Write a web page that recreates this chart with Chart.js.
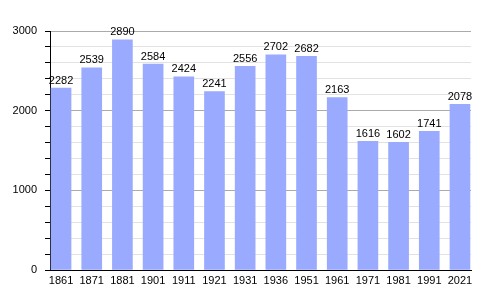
<!DOCTYPE html>
<html>
<head>
<meta charset="utf-8">
<style>
  html, body { margin: 0; padding: 0; background: #fff; }
  #wrap { width: 500px; height: 300px; }
</style>
</head>
<body>
<div id="wrap"><canvas id="popChart"></canvas></div>
<script src="https://cdn.jsdelivr.net/npm/chart.js"></script>
<script>
const years = ['1861', '1871', '1881', '1901', '1911', '1921', '1931', '1936', '1951', '1961', '1971', '1981', '1991', '2021'];
const population = [2282, 2539, 2890, 2584, 2424, 2241, 2556, 2702, 2682, 2163, 1616, 1602, 1741, 2078];
const yTicks = [0, 1000, 2000, 3000];

const FONT = '"Liberation Sans", Arial, sans-serif';

// value labels above each bar
const barLabels = {
  id: 'barLabels',
  afterDatasetsDraw(chart) {
    const ctx = chart.ctx;
    const meta = chart.getDatasetMeta(0);
    ctx.save();
    ctx.font = '11px ' + FONT;
    ctx.fillStyle = '#000';
    ctx.textAlign = 'center';
    ctx.textBaseline = 'bottom';
    meta.data.forEach((bar, i) => {
      ctx.fillText(String(population[i]), bar.x, bar.y - 2);
    });
    ctx.restore();
  }
};

const ctx = document.getElementById('popChart').getContext('2d');
new Chart(ctx, {
  type: 'bar',
  data: {
    datasets: [{
      data: population.map((v, i) => ({ x: i, y: v })),
      backgroundColor: '#99aaff',
      borderWidth: 0,
      barThickness: 20
    }]
  },
  options: {
    responsive: true,
    maintainAspectRatio: false,
    animation: false,
    layout: { padding: { top: 31, right: 29, left: 0, bottom: 0 } },
    plugins: {
      legend: { display: false },
      tooltip: { enabled: false }
    },
    scales: {
      x: {
        type: 'linear',
        offset: false,
        min: -0.36,
        max: 13.36,
        afterFit: s => { s.height = 30; },
        grid: { display: false, drawTicks: false },
        border: { display: true, color: '#000', width: 1 },
        ticks: {
          stepSize: 1,
          includeBounds: false,
          autoSkip: false,
          maxRotation: 0,
          padding: 4,
          color: '#000',
          font: { family: FONT, size: 11 },
          callback: v => (Number.isInteger(v) && years[v]) ? years[v] : ''
        }
      },
      y: {
        min: 0,
        max: 3000,
        afterFit: s => { s.width = 50; },
        border: { display: true, color: '#000', width: 1 },
        grid: {
          color: c => (yTicks.includes(c.tick.value) ? '#aaaaaa' : '#e2e2e2'),
          tickColor: '#000',
          tickLength: 5
        },
        ticks: {
          stepSize: 200,
          autoSkip: false,
          padding: 8,
          color: '#000',
          font: { family: FONT, size: 11 },
          callback: v => (yTicks.includes(v) ? String(v) : '')
        }
      }
    }
  },
  plugins: [barLabels]
});
</script>
</body>
</html>
